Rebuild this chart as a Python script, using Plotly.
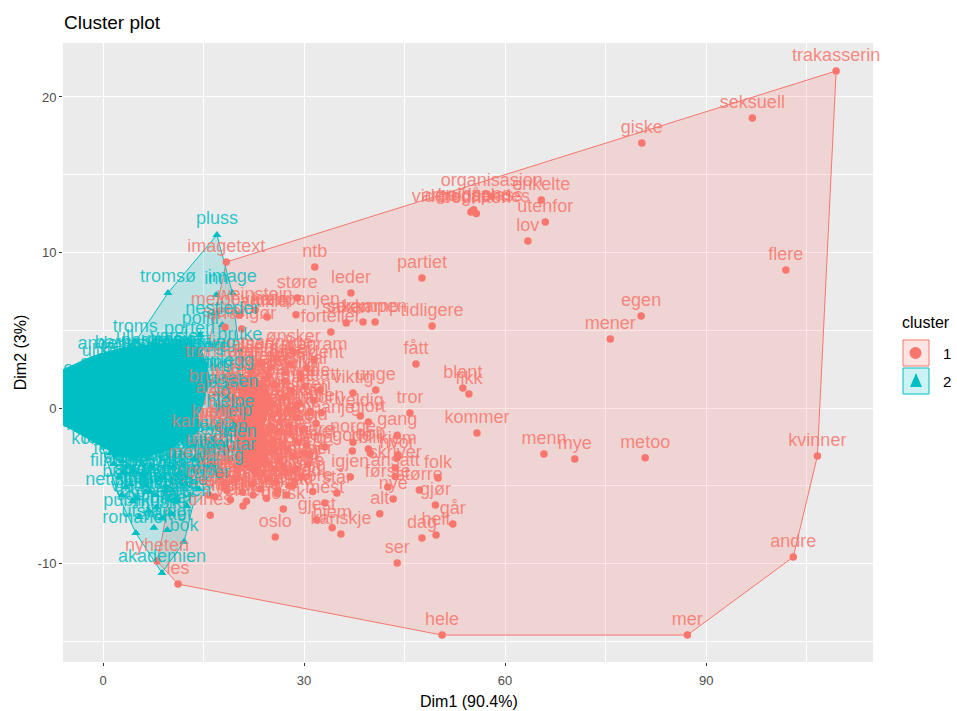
import plotly.graph_objects as go

RED = "#F8766D"
CYAN = "#00BFC4"
RED_T = "rgba(248,118,109,0.85)"
CYAN_T = "rgba(0,191,196,0.85)"

# Convex hulls (Dim1, Dim2)
hull1_x = [18.4, 109.4, 106.6, 103.0, 87.2, 50.6, 11.2, 8.06, 9.0, 10.0, 14.0, 18.4]
hull1_y = [9.39, 21.67, -3.09, -9.58, -14.6, -14.6, -11.32, -9.84, -7.91, -5.1, 0.5, 9.39]
hull2_x = [17.0, 19.3, 20.5, 19.5, 17.2, 13.4, 12.1, 8.8, 4.9, 2.5, -0.5, -0.5, 0.3, 4.8, 9.7, 17.0]
hull2_y = [11.13, 7.4, 3.0, 0.0, -4.63, -6.3, -8.6, -10.6, -8.04, -5.8, -2.0, 1.5, 3.09, 4.24, 7.4, 11.13]

# Outline of the area where the overplotted cluster labels merge into solid colour
mass2_x = [-5.97, -4.2, -1.9, 0.3, 3.0, 6.3, 9.6, 13.0, 14.8, 15.6, 16.2, 15.4, 15.0, 14.2, 14.7, 14.0, 12.0, 10.7, 9.6, 6.0, 3.0, 0.3, -2.2, -4.2, -5.97]
mass2_y = [2.5, 2.85, 3.3, 3.6, 3.9, 4.05, 4.2, 4.2, 3.7, 2.6, 1.6, 1.0, 0.2, -0.5, -1.1, -1.6, -2.0, -2.5, -2.75, -3.2, -3.2, -2.6, -2.0, -1.5, -1.1]
mass1_x = [20.0, 22.0, 24.4, 25.4, 24.0, 24.6, 22.5, 20.2, 19.5, 20.4]
mass1_y = [1.5, 2.0, 1.6, 0.2, -0.8, -3.2, -4.3, -3.6, -1.8, -0.1]

red_words = [
 "trakasserin","seksuell","giske","flere","egen","mener","kvinner","andre","mer","hele",
 "menn","mye","metoo","kommer","blant","fikk","fått","partiet","tidligere","ntb",
 "leder","støre","lov","utenfor","enkelte","organisasjon","videregåendes","gruppene","bedriften","arbeidsplass",
 "forteller","saken","sexkamp","kampen","tror","gang","viktig","unge","attatt","aldri",
 "veldig","gjort","norge","vet","gode","jobb","blir","hvor","skriver","kjem",
 "igjen","ansatt","folk","første","større","nye","alt","gjør","går","helt",
 "dag","ser","oslo","kanskje","gjest","hjem","mest","står","store","norsk",
 "verden","trines","eksempel","imagetext","weinstein","metoovarsla","kampanjen","artikler","sjefer","arrangør",
 "ønsker","program","president","nyheten","les",
 "ledelsen","kjent","mannlige","saker","møtet","dette","tiden","fordi","bare","mange",
 "sier","siden","kunne","hadde","etter","også","over","under","mellom","uten",
 "gjennom","skulle","ville","måtte","tilbake","sammen","denne","dager","mulig","hjelp",
 "arbeid","likevel","politisk","måte","begynte","norske","ifølge","kjenner","sterkt","mange",
 "uke","menneske","kvinnelig","mot","stor","ikke","lang","tatt","saker","ofte",
 "alltid","aldri","noen","flest","samfunn","tilfelle","fortalt","ledere","problem","moderne",
 "tidlig","mente","snakke","regjering","ungdom","fortsatt","kultur","hendelse","sted","behov",
 "sikkert","vanskelig","hendelser","ansvar","kollega","trygg","ekstra","sjelden","varsel","redaksjon",
 "offentlig","personer","debatten","handler","nemlig","egentlig","sentral","spørsmål","tydelig","forhold",
 "rundt","skjedd","jobber","kampanje","allerede","kanskje","lenge","svært","bedre","verre",
 "holdning","samtidig","hvorfor","gjerne","grunn","senere","mennesker","kvinnen","mannen","statsråd",
]
red_x = [
 109.4,96.9,80.4,101.9,80.3,75.7,106.6,103.0,87.2,50.6,
 65.8,70.4,80.9,55.8,53.7,54.6,46.7,47.6,49.1,31.6,
 37.0,29.0,63.4,66.0,65.4,58.0,54.9,55.3,55.7,55.1,
 34.0,36.3,38.8,40.6,45.8,43.9,37.3,40.7,32.4,32.6,
 38.4,39.6,37.3,33.1,37.2,39.6,39.9,43.9,43.6,44.0,
 36.9,43.6,50.0,42.5,47.2,43.3,41.3,49.6,52.2,49.7,
 47.6,43.9,25.7,35.5,31.9,34.2,33.1,34.9,31.3,26.9,
 20.9,16.0,15.8,18.4,22.7,20.4,28.8,24.5,18.2,20.7,
 28.4,31.5,30.4,8.06,11.2,
 20.6,23.4,25.9,28.0,22.1,24.7,27.3,29.5,18.8,20.9,
 23.2,25.6,28.1,30.2,19.5,22.3,24.9,27.0,29.3,31.4,
 18.6,21.1,23.8,26.2,28.7,30.9,19.9,22.6,25.1,27.6,
 29.8,18.3,20.4,23.0,25.4,27.9,19.2,21.8,24.2,26.6,
 29.1,18.9,21.5,24.0,26.3,28.5,30.8,20.1,22.9,25.7,
 17.5,19.7,22.2,24.6,27.2,29.6,18.1,20.8,23.5,26.0,
 28.3,16.7,19.0,21.4,24.4,27.4,22.0,25.0,16.4,19.4,
 21.3,23.9,26.5,28.9,30.1,25.2,27.7,22.8,24.1,26.8,
 28.6,19.6,21.9,23.3,25.8,27.1,29.4,20.3,22.4,24.8,
 26.1,28.2,30.6,31.8,27.5,23.6,21.0,19.1,17.2,18.5,
 20.0,22.5,24.3,26.4,28.8,30.4,18.0,21.6,25.3,27.8,
]
red_y = [
 21.67,18.65,17.04,8.87,5.92,4.44,-3.09,-9.58,-14.6,-14.6,
 -2.96,-3.28,-3.2,-1.6,1.28,0.9,2.83,8.36,5.27,9.07,
 7.4,7.07,10.74,11.96,13.38,13.6,12.6,12.75,12.5,12.65,
 4.89,5.47,5.53,5.53,-0.32,-1.75,0.96,1.16,1.16,-0.3,
 -0.51,-0.9,-2.2,-2.5,-2.77,-2.64,-2.9,-3.2,-3.86,-3.0,
 -4.44,-4.4,-4.5,-5.08,-5.27,-5.85,-6.8,-6.24,-7.46,-8.17,
 -8.36,-9.97,-8.3,-8.1,-7.2,-7.7,-6.1,-5.47,-5.36,-6.5,
 -6.3,-6.9,-5.6,9.39,6.3,6.0,6.0,5.85,5.2,5.08,
 3.6,3.1,2.57,-9.84,-11.32,
 3.1,2.9,3.2,2.8,2.4,2.1,2.3,1.9,1.4,1.6,
 1.3,1.5,1.1,1.4,0.6,0.8,0.4,0.7,0.3,0.5,
 -0.2,-0.1,-0.4,-0.3,-0.6,-0.2,-1.0,-0.9,-1.2,-1.1,
 -1.4,-1.7,-1.9,-1.8,-2.0,-1.6,-2.6,-2.5,-2.8,-2.4,
 -2.2,-3.3,-3.2,-3.5,-3.4,-3.1,-3.0,-4.0,-4.2,-3.9,
 -4.3,-4.6,-4.9,-4.5,-4.1,-4.4,-5.1,-5.4,-5.2,-5.5,
 -5.0,-5.7,-5.9,-6.0,-5.8,-5.6,1.9,2.6,-3.6,-0.8,
 0.2,-0.7,-1.5,0.1,-2.9,-0.5,-0.1,1.0,1.8,-3.7,
 -4.7,-1.3,-2.2,-3.0,-4.8,1.7,2.2,-3.7,-5.6,-3.6,
 -5.3,-4.0,-3.6,-1.0,-2.7,0.6,0.9,0.0,-1.2,-5.3,
 -4.5,-3.4,-1.6,-0.9,-3.9,-2.4,-4.8,-1.1,-2.3,-5.0,
]

# Cluster 1 labels that lie on top of the cluster 2 labels
red2_words = ["trøndelag","ulike","bruker","kanskje","kvinne","alle","mening","vitne","også"]
red2_x = [17.9,15.2,16.6,14.8,17.1,15.9,14.2,16.9,15.4]
red2_y = [2.64,-3.0,1.0,-1.9,-1.2,0.3,-3.9,-4.3,-5.1]

cy_words = [
 "pluss","tromsø","image","inn","troms","ull","anders","ulike","varslet","nestleder",
 "politi","porten","bruke","tiden","hjelpe","hjelp","jo","vanlig","akademien","bok",
 "romaner","verket","forlag","filmene","fedre","festival","kunstnere","alle","tjenester","universitet",
 "kommunen","fylket","lokale","bergen","arrangement","kjøpe","ferie","nettsiden","vinter","sommer",
 "konsert","bilder","boken","forfatter","salg","teater","musikk","kunst","lærer","skole",
 "publikum","utstilling","historie","roman","digital","magasin","spiller","vant","lag","kamp",
 "nettavisen","kommunene","kristiansand","fylkeskommune","elever","studenter","trening","barnehage","helse","pasienter",
 "sykehus","prosjekt","forskning","utdanning","lesere","dikt","vinner","finale","stasjon","veien",
 "bilen","byen","sentrum","hotell","mat","butikk","priser","kroner","millioner","aksjer",
 "fiske","natur","klima","energi","bygget","skolen","klassen","sesong","kommentar","innlegg",
]
cy_x = [
 17.0,9.7,19.3,16.9,4.8,3.3,0.3,-0.4,11.0,17.8,
 14.5,12.9,20.4,20.0,19.0,19.4,17.9,17.5,8.8,12.1,
 4.9,9.6,7.0,2.4,1.6,1.1,0.4,5.9,-0.5,0.2,
 1.9,3.7,6.1,8.4,9.3,11.5,13.0,2.8,4.4,6.8,
 8.0,10.2,12.5,14.3,4.1,6.4,8.9,11.0,13.6,3.1,
 5.4,7.6,9.9,4.6,7.2,10.6,13.4,15.9,11.8,16.3,
 -0.3,0.1,-0.5,-0.2,1.4,2.2,3.9,5.2,6.7,8.2,
 9.8,11.3,12.6,13.9,15.1,16.4,2.9,4.5,6.0,7.5,
 9.1,10.5,12.1,13.7,15.3,3.4,5.0,6.5,7.9,9.5,
 10.9,12.3,14.0,15.6,16.8,17.7,18.6,15.0,16.1,18.2,
]
cy_y = [
 11.13,7.4,7.4,7.27,4.24,3.6,3.09,2.64,3.6,5.34,
 4.7,4.1,3.73,-2.57,-0.58,-1.2,0.06,-4.1,-10.6,-8.6,
 -8.04,-7.85,-5.4,-4.4,-3.6,-2.9,-2.1,-3.6,1.2,-1.5,
 -3.0,-3.7,-4.1,-4.6,-5.0,-4.2,-5.6,-5.6,-6.0,-6.6,
 -6.4,-6.8,-6.3,-5.2,-4.9,-5.4,-7.1,-6.0,-3.3,-4.2,
 -7.0,-7.7,-5.9,-3.2,-3.7,-3.1,-2.4,-3.7,-2.9,-2.0,
 0.8,1.5,0.5,-1.9,2.0,1.9,2.9,3.2,2.8,3.3,
 3.1,3.4,3.0,3.2,2.9,1.7,-3.4,-4.0,-4.4,-3.9,
 -4.5,-3.8,-4.9,-4.0,-4.6,-5.1,-5.8,-5.0,-5.6,-5.3,
 -5.8,-4.4,-3.1,-2.9,0.9,-2.2,0.7,1.9,-3.4,2.0,
]
assert len(red_words) == len(red_x) == len(red_y)
assert len(red2_words) == len(red2_x) == len(red2_y)
assert len(cy_words) == len(cy_x) == len(cy_y)

LABEL = dict(size=18, family="Liberation Sans")

fig = go.Figure()
fig.add_trace(go.Scatter(x=hull1_x, y=hull1_y, mode="lines", fill="toself", name="1",
                         fillcolor="rgba(248,118,109,0.2)", line=dict(color=RED, width=1), hoverinfo="skip"))
fig.add_trace(go.Scatter(x=hull2_x, y=hull2_y, mode="lines", fill="toself", name="2",
                         fillcolor="rgba(0,191,196,0.2)", line=dict(color=CYAN, width=1), hoverinfo="skip"))
fig.add_trace(go.Scatter(x=mass1_x, y=mass1_y, mode="lines", fill="toself", fillcolor=RED,
                         line=dict(color=RED, width=0), hoverinfo="skip"))
fig.add_trace(go.Scatter(x=cy_x, y=cy_y, mode="markers", marker=dict(color=CYAN, symbol="triangle-up", size=8)))
fig.add_trace(go.Scatter(x=red_x, y=red_y, mode="markers+text", text=red_words, textposition="top center",
                         marker=dict(color=RED, size=7.5), textfont=dict(color=RED_T, **LABEL), cliponaxis=False))
fig.add_trace(go.Scatter(x=mass2_x, y=mass2_y, mode="lines", fill="toself", fillcolor=CYAN,
                         line=dict(color=CYAN, width=0), hoverinfo="skip"))
fig.add_trace(go.Scatter(x=cy_x, y=cy_y, mode="markers+text", text=cy_words, textposition="top center",
                         marker=dict(color=CYAN, symbol="triangle-up", size=8, opacity=0),
                         textfont=dict(color=CYAN_T, **LABEL)))
fig.add_trace(go.Scatter(x=red2_x, y=red2_y, mode="markers+text", text=red2_words, textposition="top center",
                         marker=dict(color=RED, size=7.5, opacity=0), textfont=dict(color="rgba(248,118,109,0.7)", **LABEL)))

W, H = 957, 711
L, R, T, B = 63, 873, 43, 662
def px(x): return (x - L) / (R - L)
def py(y): return (B - y) / (B - T)

shapes = []
ann = []
for top, col, alpha, lab in [(339, RED, "rgba(248,118,109,0.2)", "1"), (367, CYAN, "rgba(0,191,196,0.2)", "2")]:
    shapes.append(dict(type="rect", xref="paper", yref="paper", x0=px(903), x1=px(929), y0=py(top + 1), y1=py(top + 27),
                       fillcolor=alpha, line=dict(color=col, width=1)))
    ann.append(dict(xref="paper", yref="paper", x=px(941), y=py(top + 14), text=lab, showarrow=False, xanchor="left",
                    yanchor="middle", font=dict(size=15, color="black", family="Liberation Sans")))
shapes.append(dict(type="circle", xref="paper", yref="paper", x0=px(909.5), x1=px(921.5), y0=py(347), y1=py(359),
                   fillcolor=RED, line=dict(width=0)))
shapes.append(dict(type="path", xref="paper", yref="paper", line=dict(width=0), fillcolor=CYAN,
                   path=f"M {px(916)} {py(373)} L {px(922)} {py(387)} L {px(910)} {py(387)} Z"))
ann.append(dict(xref="paper", yref="paper", x=px(900), y=py(322), text="cluster", showarrow=False, xanchor="left",
                yanchor="middle", font=dict(size=16, color="black", family="Liberation Sans")))
ann.append(dict(xref="paper", yref="paper", x=px(469), y=py(701), text="Dim1 (90.4%)", showarrow=False, xanchor="center",
                yanchor="middle", font=dict(size=16, color="black", family="Liberation Sans")))

axis_common = dict(showline=False, zeroline=False, gridcolor="white", gridwidth=1.1, ticks="outside", ticklen=3,
                   tickcolor="#333333", tickwidth=1, automargin=False,
                   tickfont=dict(size=13, color="#4D4D4D", family="Liberation Sans"))
fig.update_layout(
    width=W, height=H, autosize=False, showlegend=False, plot_bgcolor="#EBEBEB", paper_bgcolor="white",
    margin=dict(l=L, r=W - R, t=T, b=H - B, pad=0),
    title=dict(text="Cluster plot", x=64 / W, xanchor="left", y=1 - 22 / H, yanchor="middle",
               font=dict(size=19, color="black", family="Liberation Sans")),
    xaxis=dict(range=[-5.97, 114.9], tickvals=[0, 30, 60, 90], ticktext=["0", "30", "60", "90"], ticklabelstandoff=3,
               minor=dict(dtick=15, tick0=0, showgrid=True, gridcolor="white", gridwidth=0.5, ticks=""),
               **axis_common),
    yaxis=dict(range=[-16.33, 23.47], tickvals=[-10, 0, 10, 20], ticktext=["-10", "0", "10", "20"],
               minor=dict(dtick=5, tick0=0, showgrid=True, gridcolor="white", gridwidth=0.5, ticks=""),
               title=dict(text="Dim2 (3%)", standoff=7, font=dict(size=16, color="black", family="Liberation Sans")),
               **axis_common),
    shapes=shapes, annotations=ann,
)
fig.write_html("out.html", config={"displayModeBar": False}, post_script="document.body.style.margin='0';")
